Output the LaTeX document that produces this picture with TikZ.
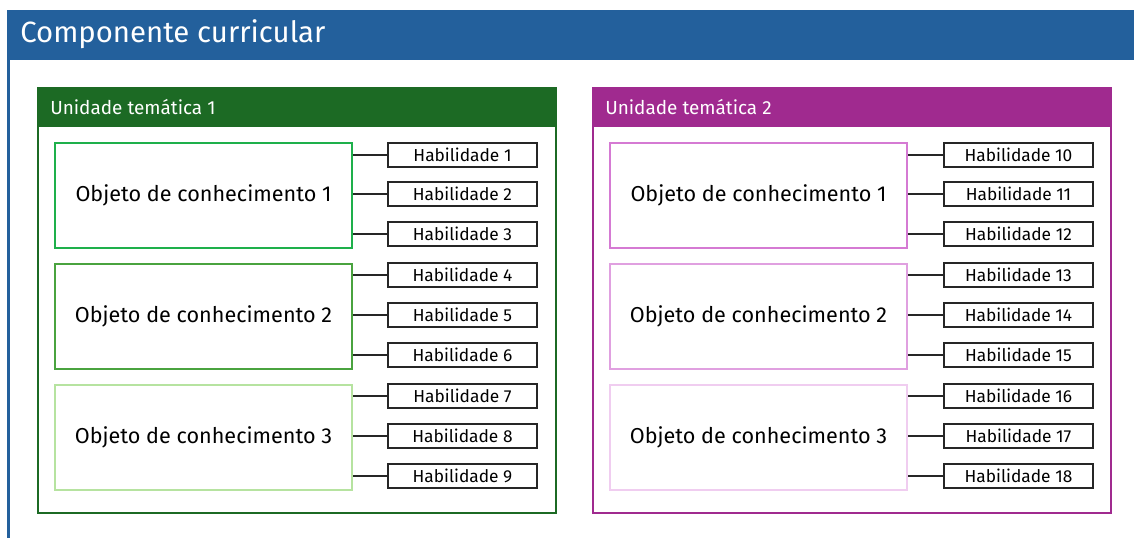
\documentclass[tikz,border=0pt]{standalone}
\usepackage{fontspec}
\setmainfont{Fira Sans}
\usetikzlibrary{positioning}
\definecolor{compblue}{RGB}{35,96,156}
\definecolor{unitgreen}{RGB}{28,106,36}
\definecolor{unitpurple}{RGB}{160,42,143}
\definecolor{objgreenA}{RGB}{30,176,75}
\definecolor{objgreenB}{RGB}{74,163,63}
\definecolor{objgreenC}{RGB}{182,227,160}
\definecolor{objpinkA}{RGB}{213,122,211}
\definecolor{objpinkB}{RGB}{224,160,224}
\definecolor{objpinkC}{RGB}{240,205,240}
\tikzset{
  objbox/.style={draw, line width=1.5, minimum width=222.75pt, minimum height=78.75pt, inner sep=0pt, font=\fontsize{16.2}{19}\selectfont},
  habbox/.style={draw=black!85, line width=1.2, minimum width=111.75pt, minimum height=18pt, inner sep=0pt, font=\fontsize{13}{15}\selectfont},
  link/.style={draw=black!85, line width=1.2},
  unithead/.style={anchor=west, text=white, inner sep=0pt, font=\fontsize{14.2}{17}\selectfont}
}
\begin{document}
\begin{tikzpicture}[x=0.75pt,y=0.75pt,yscale=-1,xscale=1]
\useasboundingbox (0,0) rectangle (1134,537);

%Outer frame
\fill [compblue] (7,10) rectangle (1140,60);
\draw [compblue, line width=2.2] (8.5,58) -- (8.5,540);
\node (comp) [anchor=west, text=white, inner sep=0pt, font=\fontsize{22}{26}\selectfont] at (20,34) {Componente curricular};

%Unit frames
\draw [unitgreen, line width=1.5] (38,88) rectangle (556,513);
\fill [unitgreen] (38,88) rectangle (556,127);
\node (unit1) [unithead] at (50,107) {Unidade temática 1};
\draw [unitpurple, line width=1.5] (593,88) rectangle (1111,513);
\fill [unitpurple] (593,88) rectangle (1111,127);
\node (unit2) [unithead] at (605,107) {Unidade temática 2};

% Objeto nodes
\node (obj1) [objbox, draw=objgreenA] at (203.5,195.5) {Objeto de conhecimento 1};
\node (obj2) [objbox, draw=objgreenB] at (203.5,316.5) {Objeto de conhecimento 2};
\node (obj3) [objbox, draw=objgreenC] at (203.5,437.5) {Objeto de conhecimento 3};
\node (obj4) [objbox, draw=objpinkA] at (758.5,195.5) {Objeto de conhecimento 1};
\node (obj5) [objbox, draw=objpinkB] at (758.5,316.5) {Objeto de conhecimento 2};
\node (obj6) [objbox, draw=objpinkC] at (758.5,437.5) {Objeto de conhecimento 3};

% Habilidade nodes
\node (hab1) [habbox] at (462.5,155) {Habilidade 1};
\node (hab2) [habbox] at (462.5,194) {Habilidade 2};
\node (hab3) [habbox] at (462.5,234) {Habilidade 3};
\node (hab4) [habbox] at (462.5,275) {Habilidade 4};
\node (hab5) [habbox] at (462.5,315) {Habilidade 5};
\node (hab6) [habbox] at (462.5,355) {Habilidade 6};
\node (hab7) [habbox] at (462.5,396) {Habilidade 7};
\node (hab8) [habbox] at (462.5,436) {Habilidade 8};
\node (hab9) [habbox] at (462.5,476) {Habilidade 9};
\node (hab10) [habbox] at (1018.5,155) {Habilidade 10};
\node (hab11) [habbox] at (1018.5,194) {Habilidade 11};
\node (hab12) [habbox] at (1018.5,234) {Habilidade 12};
\node (hab13) [habbox] at (1018.5,275) {Habilidade 13};
\node (hab14) [habbox] at (1018.5,315) {Habilidade 14};
\node (hab15) [habbox] at (1018.5,355) {Habilidade 15};
\node (hab16) [habbox] at (1018.5,396) {Habilidade 16};
\node (hab17) [habbox] at (1018.5,436) {Habilidade 17};
\node (hab18) [habbox] at (1018.5,476) {Habilidade 18};

%Straight Lines
\draw [link] (obj1.east |- hab1.west) -- (hab1.west);
\draw [link] (obj1.east |- hab2.west) -- (hab2.west);
\draw [link] (obj1.east |- hab3.west) -- (hab3.west);
\draw [link] (obj2.east |- hab4.west) -- (hab4.west);
\draw [link] (obj2.east |- hab5.west) -- (hab5.west);
\draw [link] (obj2.east |- hab6.west) -- (hab6.west);
\draw [link] (obj3.east |- hab7.west) -- (hab7.west);
\draw [link] (obj3.east |- hab8.west) -- (hab8.west);
\draw [link] (obj3.east |- hab9.west) -- (hab9.west);
\draw [link] (obj4.east |- hab10.west) -- (hab10.west);
\draw [link] (obj4.east |- hab11.west) -- (hab11.west);
\draw [link] (obj4.east |- hab12.west) -- (hab12.west);
\draw [link] (obj5.east |- hab13.west) -- (hab13.west);
\draw [link] (obj5.east |- hab14.west) -- (hab14.west);
\draw [link] (obj5.east |- hab15.west) -- (hab15.west);
\draw [link] (obj6.east |- hab16.west) -- (hab16.west);
\draw [link] (obj6.east |- hab17.west) -- (hab17.west);
\draw [link] (obj6.east |- hab18.west) -- (hab18.west);

\end{tikzpicture}
\end{document}
